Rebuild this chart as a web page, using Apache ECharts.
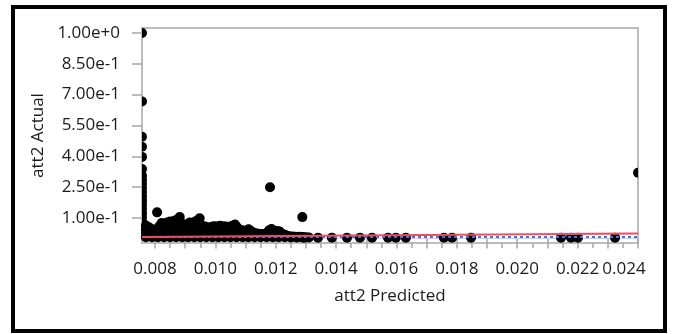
<!DOCTYPE html>
<html>
<head>
<meta charset="utf-8">
<title>att2 Actual by Predicted</title>
<script src="https://cdn.jsdelivr.net/npm/echarts@6.0.0/dist/echarts.min.js"></script>
<style>
  html, body { margin: 0; padding: 0; background: #fff; }
  #chart { width: 673px; height: 334px; }
</style>
</head>
<body>
<div id="chart"></div>
<script>
// axis ticks / labels
const xLabelTicks = [0.008, 0.010, 0.012, 0.014, 0.016, 0.018, 0.020, 0.022, 0.024]
const xMajorTicks = [0.008, 0.009, 0.010, 0.011, 0.012, 0.013, 0.014, 0.015, 0.016, 0.017, 0.018, 0.019, 0.020, 0.021, 0.022, 0.023, 0.024]
const xMinorTicks = [0.0085, 0.0095, 0.0105, 0.0115, 0.0125, 0.0135, 0.0145, 0.0155, 0.0165, 0.0175, 0.0185, 0.0195, 0.0205, 0.0215, 0.0225, 0.0235]
const yTicks = [0.10, 0.25, 0.40, 0.55, 0.70, 0.85, 1.00]

// [predicted, actual] - points sitting on the left edge of the frame (half shown)
const edgePts = [
  [0.00757, 1.000], [0.00757, 0.667], [0.00757, 0.495], [0.00757, 0.446], [0.00757, 0.397],
  [0.00757, 0.338], [0.00757, 0.305], [0.00757, 0.285], [0.00757, 0.265], [0.00757, 0.245],
  [0.00757, 0.225], [0.00757, 0.205], [0.00757, 0.185], [0.00757, 0.165], [0.00757, 0.145],
  [0.00757, 0.125], [0.00757, 0.105], [0.00757, 0.085], [0.00757, 0.070]
]
// point on the right edge
const rightEdgePts = [[0.02400, 0.320]]

// top of the dense cluster
const clusterTop = [
  [0.00770, 0.063], [0.00780, 0.055], [0.00807, 0.127], [0.00800, 0.044], [0.00815, 0.060],
  [0.00822, 0.075], [0.00830, 0.068], [0.00840, 0.078], [0.00850, 0.083], [0.00858, 0.076],
  [0.00866, 0.088], [0.00875, 0.092], [0.00882, 0.104], [0.00890, 0.072], [0.00898, 0.065],
  [0.00908, 0.070], [0.00915, 0.078], [0.00925, 0.074], [0.00933, 0.082], [0.00942, 0.088],
  [0.00948, 0.098], [0.00956, 0.062], [0.00966, 0.058], [0.00975, 0.052], [0.00985, 0.056],
  [0.00995, 0.060], [0.01005, 0.058], [0.01015, 0.062], [0.01025, 0.060], [0.01035, 0.058],
  [0.01045, 0.052], [0.01055, 0.062], [0.01065, 0.068], [0.01072, 0.055], [0.01080, 0.040],
  [0.01090, 0.036], [0.01100, 0.034], [0.01110, 0.045], [0.01118, 0.036], [0.01128, 0.028],
  [0.01138, 0.024], [0.01150, 0.022], [0.01160, 0.020], [0.01170, 0.026], [0.01178, 0.040],
  [0.01186, 0.046], [0.01195, 0.038], [0.01205, 0.036], [0.01213, 0.034], [0.01222, 0.022],
  [0.01232, 0.016], [0.01242, 0.012], [0.01255, 0.010], [0.01265, 0.009], [0.01278, 0.008],
  [0.01290, 0.007], [0.01300, 0.006]
]
// body of the cluster
const clusterBody = [
  [0.0077, 0.045], [0.0079, 0.045], [0.0081, 0.045], [0.0083, 0.045], [0.0085, 0.045],
  [0.0087, 0.045], [0.0089, 0.045], [0.0091, 0.045], [0.0093, 0.045], [0.0095, 0.045],
  [0.0097, 0.045], [0.0099, 0.045], [0.0101, 0.045], [0.0103, 0.045], [0.0105, 0.045],
  [0.0107, 0.045], [0.0109, 0.040], [0.0111, 0.038],
  [0.0077, 0.026], [0.0079, 0.026], [0.0081, 0.026], [0.0083, 0.026], [0.0085, 0.026],
  [0.0087, 0.026], [0.0089, 0.026], [0.0091, 0.026], [0.0093, 0.026], [0.0095, 0.026],
  [0.0097, 0.026], [0.0099, 0.026], [0.0101, 0.026], [0.0103, 0.026], [0.0105, 0.026],
  [0.0107, 0.026], [0.0109, 0.026], [0.0111, 0.026], [0.0113, 0.024], [0.0115, 0.022],
  [0.0117, 0.022], [0.0119, 0.024], [0.0121, 0.022], [0.0123, 0.018],
  [0.0077, 0.006], [0.0079, 0.006], [0.0081, 0.006], [0.0083, 0.006], [0.0085, 0.006],
  [0.0087, 0.006], [0.0089, 0.006], [0.0091, 0.006], [0.0093, 0.006], [0.0095, 0.006],
  [0.0097, 0.006], [0.0099, 0.006], [0.0101, 0.006], [0.0103, 0.006], [0.0105, 0.006],
  [0.0107, 0.006], [0.0109, 0.006], [0.0111, 0.006], [0.0113, 0.006], [0.0115, 0.006],
  [0.0117, 0.006], [0.0119, 0.006], [0.0121, 0.006], [0.0123, 0.006], [0.0125, 0.005],
  [0.0127, 0.005], [0.0129, 0.005], [0.0131, 0.005]
]
// isolated points
const outlierPts = [
  [0.01181, 0.249], [0.01288, 0.104]
]
// thin tail along the bottom
const tailPts = [
  [0.01294, 0.004], [0.01340, 0.004], [0.01386, 0.004], [0.01436, 0.004], [0.01479, 0.004],
  [0.01519, 0.004], [0.01572, 0.004], [0.01598, 0.004], [0.01631, 0.004], [0.01757, 0.004],
  [0.01784, 0.004], [0.01847, 0.004], [0.02145, 0.004], [0.02178, 0.004], [0.02201, 0.004],
  [0.02324, 0.004]
]

// fit line (actual = predicted) and mean line
const fitLine = [[0.00757, 0.00757], [0.02400, 0.02400]]
const meanLine = [[0.00757, 0.007], [0.02400, 0.007]]

const chart = echarts.init(document.getElementById('chart'))

const tickColor = '#a6a6a6'
const textColor = '#1c1c1c'
const font = 'Open Sans'
const xMax = 0.0240

chart.setOption({
  backgroundColor: '#fff',
  animation: false,
  grid: {
    left: 142,
    right: 35,
    top: 28,
    bottom: 91,
    show: true,
    borderColor: '#bdbdbd',
    borderWidth: 2
  },
  graphic: [
    {
      type: 'rect',
      shape: { x: 13, y: 7, width: 652, height: 324 },
      style: { fill: 'none', stroke: '#000', lineWidth: 4 },
      z: 100
    }
  ],
  xAxis: [
    {
      type: 'value',
      min: 0.00757,
      max: xMax,
      name: 'att2 Predicted',
      nameLocation: 'middle',
      nameGap: 45,
      nameTextStyle: { color: textColor, fontSize: 17, fontFamily: font },
      axisLine: { show: true, lineStyle: { color: '#d0d0d0', width: 1 } },
      axisTick: {
        show: true,
        length: 10,
        customValues: xMajorTicks,
        lineStyle: { color: tickColor, width: 1.5 }
      },
      axisLabel: {
        customValues: xLabelTicks,
        showMaxLabel: true,
        margin: 18,
        color: textColor,
        fontSize: 17,
        fontFamily: font,
        // last label is pushed left so it stays inside the frame
        formatter: v => (Math.abs(v - xMax) < 1e-9 ? '{last|' + v.toFixed(3) + '}' : v.toFixed(3)),
        rich: {
          last: { color: textColor, fontSize: 17, fontFamily: font, padding: [0, 28, 0, 0] }
        }
      },
      splitLine: { show: false }
    },
    {
      // minor ticks
      type: 'value',
      min: 0.00757,
      max: xMax,
      position: 'bottom',
      axisLine: { show: false },
      axisTick: {
        show: true,
        length: 5,
        customValues: xMinorTicks,
        lineStyle: { color: tickColor, width: 1.5 }
      },
      axisLabel: { show: false },
      splitLine: { show: false }
    }
  ],
  yAxis: {
    type: 'value',
    min: -0.022,
    max: 1.024,
    name: 'att2 Actual',
    nameLocation: 'middle',
    nameGap: 95,
    nameTextStyle: { color: textColor, fontSize: 17, fontFamily: font },
    axisLine: { show: true, lineStyle: { color: '#bdbdbd', width: 2 } },
    axisTick: {
      show: true,
      length: 10,
      customValues: yTicks,
      lineStyle: { color: tickColor, width: 1.5 }
    },
    axisLabel: {
      customValues: yTicks,
      margin: 22,
      color: textColor,
      fontSize: 17,
      fontFamily: font,
      formatter: v => v.toExponential(2)
    },
    splitLine: { show: false }
  },
  series: [
    {
      name: 'cluster',
      type: 'scatter',
      symbolSize: 10,
      itemStyle: { color: '#000', opacity: 1 },
      data: clusterBody.concat(clusterTop, outlierPts, tailPts),
      z: 2
    },
    {
      name: 'left edge',
      type: 'scatter',
      symbol: 'path://M0,0 A10,10 0 0 1 0,20 Z',
      symbolSize: [5, 10],
      symbolOffset: [2.5, 0],
      itemStyle: { color: '#000', opacity: 1 },
      data: edgePts,
      z: 2
    },
    {
      name: 'right edge',
      type: 'scatter',
      symbol: 'path://M10,0 A10,10 0 0 0 10,20 Z',
      symbolSize: [5, 10],
      symbolOffset: [-2.5, 0],
      itemStyle: { color: '#000', opacity: 1 },
      data: rightEdgePts,
      z: 2
    },
    {
      name: 'mean',
      type: 'line',
      symbol: 'none',
      lineStyle: { color: '#3b78f0', width: 2, type: [3, 3] },
      data: meanLine,
      z: 3
    },
    {
      name: 'fit',
      type: 'line',
      symbol: 'none',
      lineStyle: { color: '#ee4d62', width: 2 },
      data: fitLine,
      z: 4
    }
  ]
})
</script>
</body>
</html>
